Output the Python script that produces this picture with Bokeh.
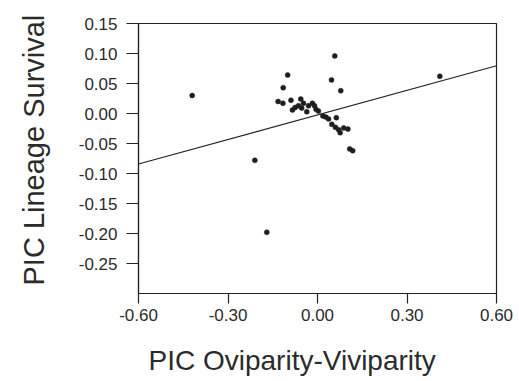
from bokeh.plotting import figure
from bokeh.models import FixedTicker, PrintfTickFormatter, Range1d, Title, LinearAxis
from bokeh.embed import file_html
from bokeh.resources import INLINE

# Phylogenetically independent contrasts
pic_parity = [
    -0.42, 0.41, -0.21, -0.17, 0.058, 0.047, 0.078, -0.100, -0.115,
    -0.132, -0.116, -0.089, -0.056, -0.084, -0.075, -0.064, -0.047,
    -0.053, -0.036, -0.030, -0.017, -0.010, -0.005, 0.003, 0.018,
    0.028, 0.037, 0.063, 0.048, 0.060, 0.071, 0.076, 0.088, 0.102,
    0.108, 0.118,
]
pic_survival = [
    0.030, 0.062, -0.078, -0.198, 0.096, 0.056, 0.038, 0.064, 0.043,
    0.020, 0.017, 0.022, 0.024, 0.006, 0.010, 0.013, 0.017,
    0.009, 0.003, 0.013, 0.017, 0.013, 0.007, 0.004, -0.004,
    -0.006, -0.009, -0.007, -0.018, -0.023, -0.027, -0.032, -0.024, -0.026,
    -0.059, -0.062,
]

# Least-squares fit through the contrasts
fit_intercept = -0.0024
fit_slope = 0.1365

x_ticks = [-0.60, -0.30, 0.00, 0.30, 0.60]
y_ticks = [0.15, 0.10, 0.05, 0.00, -0.05, -0.10, -0.15, -0.20, -0.25]
x_lo, x_hi = -0.60, 0.60
y_lo, y_hi = -0.30, 0.15

x_title = "PIC Oviparity-Viviparity"
y_title = "PIC Lineage Survival"

INK = "#2b2b2b"
FONT = "Liberation Sans"

p = figure(
    width=519, height=381,
    x_range=Range1d(x_lo, x_hi), y_range=Range1d(y_lo, y_hi),
    output_backend="svg", toolbar_location=None,
    min_border_left=138, min_border_right=23,
    min_border_top=23, min_border_bottom=88,
    background_fill_color="white", border_fill_color="white",
)
p.grid.visible = False
p.outline_line_color = "#222222"
p.outline_line_width = 1.2

fit_x = [x_lo, x_hi]
fit_y = [fit_intercept + fit_slope * v for v in fit_x]
p.line(fit_x, fit_y, line_color="#222222", line_width=1.1)

p.scatter(pic_parity, pic_survival, marker="circle", size=5,
          fill_color="#1e1e1e", line_color="#1e1e1e", line_width=0.5)

for ax in (p.xaxis[0], p.yaxis[0]):
    ax.axis_line_color = "#222222"
    ax.axis_line_width = 1.2
    ax.major_tick_line_color = "#222222"
    ax.major_tick_line_width = 1.2
    ax.major_tick_in = 0
    ax.minor_tick_line_color = None
    ax.major_label_text_font = FONT
    ax.major_label_text_color = INK
    ax.major_label_text_font_size = "17px"
    ax.formatter = PrintfTickFormatter(format="%.2f")

p.xaxis[0].ticker = FixedTicker(ticks=x_ticks)
p.yaxis[0].ticker = FixedTicker(ticks=y_ticks)
p.xaxis[0].major_tick_out = 10
p.yaxis[0].major_tick_out = 12
p.xaxis[0].major_label_standoff = 5
p.yaxis[0].major_label_standoff = 9


def spacer(gap, at):
    """Blank white axis that only pushes the axis title outward."""
    return LinearAxis(
        ticker=FixedTicker(ticks=[at]), major_label_overrides={at: ""},
        major_label_text_font_size="0px", major_label_standoff=0,
        axis_line_color=None, minor_tick_line_color=None,
        major_tick_line_color="white", major_tick_in=0,
        major_tick_out=gap, minor_tick_out=0,
    )


p.add_layout(spacer(18, -0.45), "below")
p.add_layout(spacer(16, -0.275), "left")

# Axis titles as side panels so they can sit off-centre
p.add_layout(Title(text=x_title, align="left", offset=10, standoff=2,
                   text_font=FONT, text_font_style="normal",
                   text_font_size="28px", text_color=INK), "below")
p.add_layout(Title(text=y_title, align="left", offset=8, standoff=20,
                   text_font=FONT, text_font_style="normal",
                   text_font_size="29px", text_color=INK), "left")

open("out.html", "w").write(file_html(p, INLINE))
